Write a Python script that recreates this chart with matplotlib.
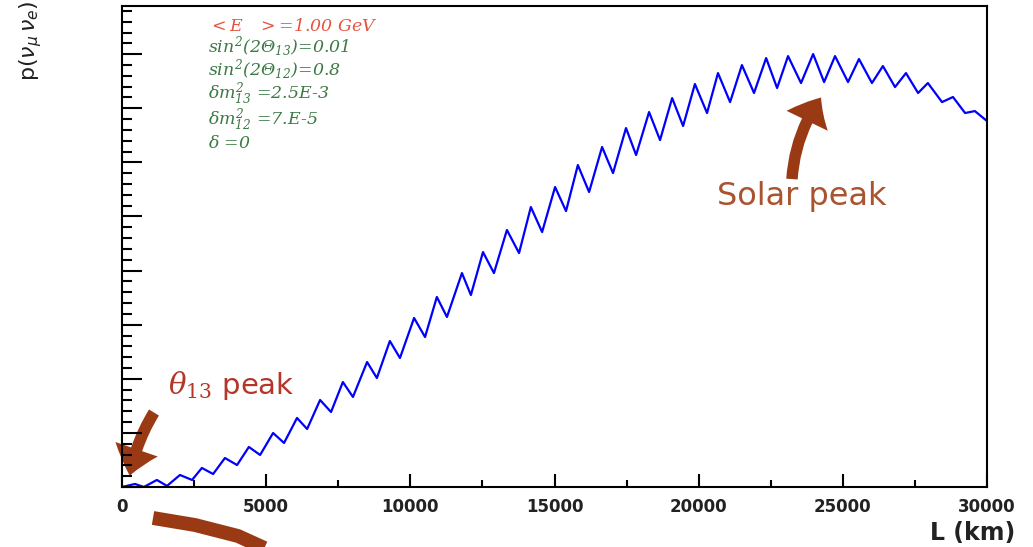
import matplotlib
matplotlib.use('Agg')
import matplotlib.pyplot as plt
from matplotlib.patches import FancyArrowPatch
from matplotlib.lines import Line2D
from matplotlib.ticker import MultipleLocator

# extrema of P(numu -> nue) (L in km)
L_KM = [0, 450, 760, 1210, 1560, 2010, 2430, 2770, 3160, 3570, 3990, 4400, 4790,
        5240, 5620, 6070, 6420, 6870, 7250, 7660, 8010, 8500, 8840, 9290, 9640,
        10130, 10510, 10920, 11270, 11790, 12100, 12520, 12900, 13350, 13770,
        14180, 14570, 15020, 15400, 15810, 16200, 16650, 17030, 17480, 17830,
        18280, 18660, 19080, 19460, 19870, 20290, 20670, 21090, 21500, 21920,
        22340, 22720, 23100, 23550, 23970, 24350, 24730, 25180, 25560, 26010,
        26390, 26810, 27190, 27610, 27950, 28440, 28820, 29240, 29580, 30000]
PROB = [0.0, 0.0028, 0.0, 0.0065, 0.001, 0.0111, 0.0065, 0.0176, 0.0120, 0.0268,
        0.0203, 0.0370, 0.0296, 0.0499, 0.0407, 0.0638, 0.0536, 0.0804, 0.0693,
        0.0970, 0.0832, 0.1155, 0.1007, 0.1349, 0.1192, 0.1562, 0.1386, 0.1756,
        0.1571, 0.1977, 0.1774, 0.2171, 0.1977, 0.2375, 0.2162, 0.2587, 0.2356,
        0.2772, 0.2550, 0.2975, 0.2726, 0.3142, 0.2901, 0.3317, 0.3068, 0.3465,
        0.3206, 0.3594, 0.3336, 0.3724, 0.3456, 0.3825, 0.3557, 0.3899, 0.3641,
        0.3964, 0.3687, 0.3982, 0.3733, 0.4001, 0.3742, 0.3982, 0.3742, 0.3955,
        0.3733, 0.3890, 0.3696, 0.3825, 0.3641, 0.3733, 0.3557, 0.3604, 0.3456,
        0.3474, 0.3382]

X_TICKS = [0, 5000, 10000, 15000, 20000, 25000, 30000]
PARAM_LINES = [r'$<E_{\ \ \ \ }>$=1.00 GeV',
               r'$sin^2(2\Theta_{13})$=0.01',
               r'$sin^2(2\Theta_{12})$=0.8',
               r'$\delta m^2_{13}$ =2.5E-3',
               r'$\delta m^2_{12}$ =7.E-5',
               r'$\delta$ =0']
PARAM_COLORS = ['#e5533f', '#3c7a45', '#3c7a45', '#3c7a45', '#3c7a45', '#3c7a45']
PARAM_BASELINES = [29, 52.5, 76, 99, 124.5, 147.5]   # pixels from top

plt.rcParams['mathtext.fontset'] = 'custom'
plt.rcParams['mathtext.rm'] = 'DejaVu Serif:italic'
plt.rcParams['mathtext.it'] = 'DejaVu Serif:italic'

fig = plt.figure(figsize=(10.33, 5.47), dpi=100)
ax = fig.add_axes([122 / 1033, 1 - 487 / 547, 865 / 1033, 481 / 547])

ax.plot(L_KM, PROB, color='#0000ff', lw=1.6, solid_joinstyle='round')
ax.set_xlim(0, 30000)
ax.set_ylim(0, 0.4445)

for sp in ax.spines.values():
    sp.set_linewidth(1.5)
ax.set_xticks(X_TICKS)
ax.xaxis.set_minor_locator(MultipleLocator(2500))
ax.yaxis.set_major_locator(MultipleLocator(0.05))
ax.yaxis.set_minor_locator(MultipleLocator(0.01))
ax.tick_params(axis='x', which='major', direction='in', length=9.5, width=1.5, pad=8)
ax.tick_params(axis='x', which='minor', direction='in', length=5, width=1.5)
ax.tick_params(axis='y', which='major', direction='in', length=14.5, width=1.5, labelleft=False)
ax.tick_params(axis='y', which='minor', direction='in', length=7.5, width=1.5)
for lab in ax.get_xticklabels():
    lab.set_fontfamily('DejaVu Sans')
    lab.set_fontweight('bold')
    lab.set_fontsize(12)
    lab.set_color('#222222')

fig.text(1015 / 1033, 1 - 533 / 547, 'L (km)', ha='right', va='center',
         fontsize=17, fontweight='bold', family='DejaVu Sans', color='#222222')
fig.text(31 / 1033, 1 - 41 / 547, r'p($\nu_\mu\,\nu_e$)', rotation=90, ha='center',
         va='center', fontsize=16, family='DejaVu Sans', color='#222222',
         math_fontfamily='dejavusans')

for txt, col, yb in zip(PARAM_LINES, PARAM_COLORS, PARAM_BASELINES):
    fig.text(208 / 1033, 1 - yb / 547, txt, ha='left', va='baseline',
             fontsize=12.5, family='DejaVu Serif', style='italic', color=col)

# annotations
brown = '#993a14'
ax.text(1600, 0.094, r'$\theta_{13}$ peak', fontsize=21, color='#b4352a',
        family='DejaVu Sans', math_fontfamily='dejavuserif', va='center')
ax.text(23560, 0.268, 'Solar peak', fontsize=23, color='#a9532f',
        family='DejaVu Sans', ha='center', va='center')

ax.add_patch(FancyArrowPatch((23230, 0.282), (24300, 0.362),
                             arrowstyle='simple,head_length=1.3,head_width=2.2,tail_width=0.55',
                             mutation_scale=15, color=brown, lw=0,
                             connectionstyle='arc3,rad=-0.15', clip_on=False))
ax.add_patch(FancyArrowPatch((1160, 0.071), (250, 0.008),
                             arrowstyle='simple,head_length=1.4,head_width=2.3,tail_width=0.6',
                             mutation_scale=14, color=brown, lw=0,
                             connectionstyle='arc3,rad=0.1', clip_on=False))
fig.add_artist(Line2D([153 / 1033, 195 / 1033, 238 / 1033, 282 / 1033],
                      [1 - 518 / 547, 1 - 525 / 547, 1 - 536 / 547, 1 - 556 / 547],
                      transform=fig.transFigure, color=brown, lw=10,
                      solid_capstyle='butt', solid_joinstyle='round'))

fig.savefig('out.png', dpi=100)
